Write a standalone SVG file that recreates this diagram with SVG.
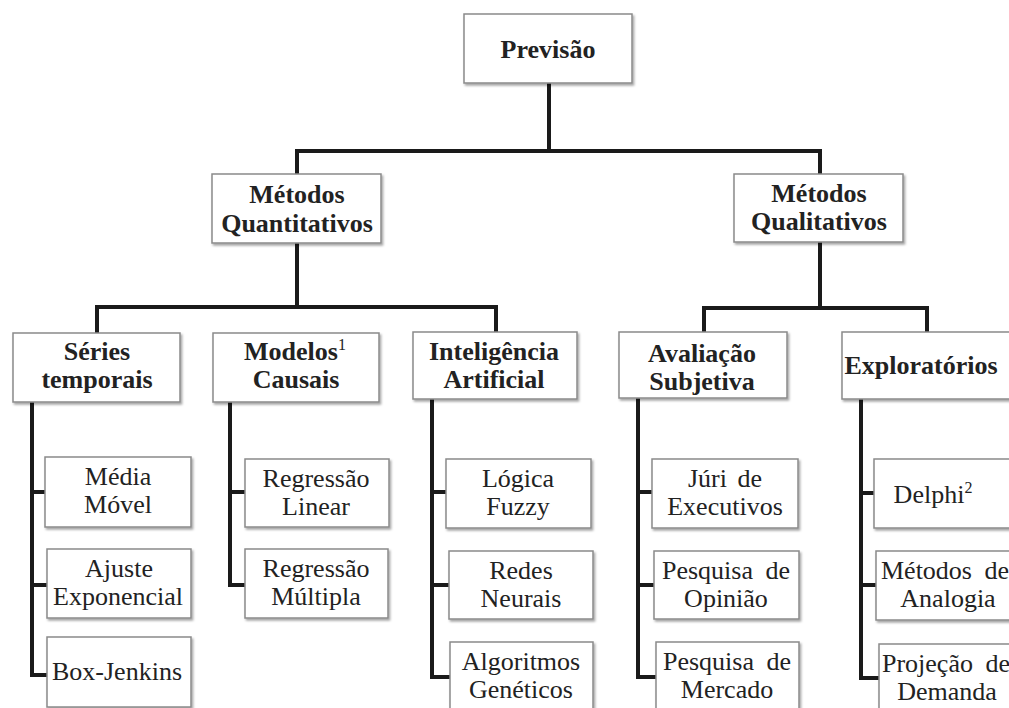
<svg xmlns="http://www.w3.org/2000/svg" width="1009" height="708" viewBox="0 0 1009 708">
<defs>
<filter id="sh" x="-10%" y="-10%" width="130%" height="140%">
<feDropShadow dx="1.5" dy="2" stdDeviation="1.2" flood-color="#000" flood-opacity="0.35"/>
</filter>
</defs>
<style>
.box{fill:#fff;stroke:#8a8a8a;stroke-width:1.5;filter:url(#sh)}
.h{font-family:"Liberation Serif","Times New Roman",serif;font-size:26px;font-weight:bold;fill:#222;text-anchor:middle}
.t{font-family:"Liberation Serif","Times New Roman",serif;font-size:26px;fill:#222;text-anchor:middle}
.sup{font-size:16px;font-weight:normal}
.c{fill:none;stroke:#1a1a1a;stroke-width:4;stroke-linejoin:miter;stroke-linecap:square}
</style>
<rect width="1009" height="708" fill="#fff"/>
<g id="connectors">
<path class="c" d="M549 83V151M297 174V151H820V174"/>
<path class="c" d="M297 243V307M97 333V307H496V332"/>
<path class="c" d="M820 242V308M704 332V308H927V332"/>
<path class="c" d="M32 402V675H47M32 492H45M32 585H47"/>
<path class="c" d="M230 402V585H245M230 492H245"/>
<path class="c" d="M432 399V677H450M432 492H446M432 585H449"/>
<path class="c" d="M638 398V677H656M638 492H652M638 585H654"/>
<path class="c" d="M861 399V678H879M861 493H874M861 585H876"/>
</g>
<g id="previsao"><rect class="box" x="464" y="14" width="168" height="69"/><text class="h" x="548" y="58">Previsão</text></g>
<g id="quantitativos"><rect class="box" x="212" y="174" width="169" height="69"/><text class="h" x="297" y="203">Métodos</text><text class="h" x="297" y="232">Quantitativos</text></g>
<g id="qualitativos"><rect class="box" x="734" y="174" width="169" height="68"/><text class="h" x="819" y="202">Métodos</text><text class="h" x="819" y="230">Qualitativos</text></g>
<g id="series"><rect class="box" x="13" y="333" width="167" height="69"/><text class="h" x="97" y="360">Séries</text><text class="h" x="97" y="388">temporais</text></g>
<g id="modelos"><rect class="box" x="213" y="333" width="166" height="69"/><text class="h" x="295" y="360">Modelos<tspan class="sup" dy="-10">1</tspan></text><text class="h" x="296" y="388">Causais</text></g>
<g id="inteligencia"><rect class="box" x="413" y="332" width="164" height="67"/><text class="h" x="494" y="360">Inteligência</text><text class="h" x="494" y="388">Artificial</text></g>
<g id="avaliacao"><rect class="box" x="619" y="332" width="168" height="66"/><text class="h" x="702" y="362">Avaliação</text><text class="h" x="702" y="390">Subjetiva</text></g>
<g id="exploratorios"><rect class="box" x="842" y="332" width="175" height="67"/><text class="h" x="921" y="374">Exploratórios</text></g>
<g id="media"><rect class="box" x="45" y="457" width="146" height="70"/><text class="t" x="118" y="485">Média</text><text class="t" x="118" y="513">Móvel</text></g>
<g id="ajuste"><rect class="box" x="47" y="549" width="144" height="69"/><text class="t" x="119" y="577">Ajuste</text><text class="t" x="118" y="605">Exponencial</text></g>
<g id="boxjenkins"><rect class="box" x="47" y="637" width="144" height="70"/><text class="t" x="117" y="680">Box-Jenkins</text></g>
<g id="regressao-linear"><rect class="box" x="245" y="459" width="144" height="68"/><text class="t" x="316" y="487">Regressão</text><text class="t" x="316" y="515">Linear</text></g>
<g id="regressao-multipla"><rect class="box" x="245" y="549" width="143" height="69"/><text class="t" x="316" y="577">Regressão</text><text class="t" x="316" y="605">Múltipla</text></g>
<g id="logica"><rect class="box" x="446" y="459" width="145" height="69"/><text class="t" x="518" y="487">Lógica</text><text class="t" x="518" y="515">Fuzzy</text></g>
<g id="redes"><rect class="box" x="449" y="551" width="144" height="68"/><text class="t" x="521" y="579">Redes</text><text class="t" x="521" y="607">Neurais</text></g>
<g id="algoritmos"><rect class="box" x="450" y="642" width="143" height="70"/><text class="t" x="521" y="670">Algoritmos</text><text class="t" x="521" y="698">Genéticos</text></g>
<g id="juri"><rect class="box" x="652" y="459" width="146" height="69"/><text class="t" x="725" y="487" word-spacing="4">Júri de</text><text class="t" x="725" y="515">Executivos</text></g>
<g id="opiniao"><rect class="box" x="654" y="551" width="145" height="68"/><text class="t" x="726" y="579" word-spacing="6">Pesquisa de</text><text class="t" x="726" y="607">Opinião</text></g>
<g id="mercado"><rect class="box" x="656" y="642" width="143" height="70"/><text class="t" x="727" y="670" word-spacing="6">Pesquisa de</text><text class="t" x="727" y="698">Mercado</text></g>
<g id="delphi"><rect class="box" x="874" y="459" width="143" height="69"/><text class="t" x="933" y="503">Delphi<tspan class="sup" dy="-10">2</tspan></text></g>
<g id="analogia"><rect class="box" x="876" y="551" width="141" height="69"/><text class="t" x="945" y="579" word-spacing="6">Métodos de</text><text class="t" x="948" y="607">Analogia</text></g>
<g id="projecao"><rect class="box" x="879" y="644" width="138" height="70"/><text class="t" x="946" y="672" word-spacing="6">Projeção de</text><text class="t" x="947" y="700">Demanda</text></g>
</svg>
